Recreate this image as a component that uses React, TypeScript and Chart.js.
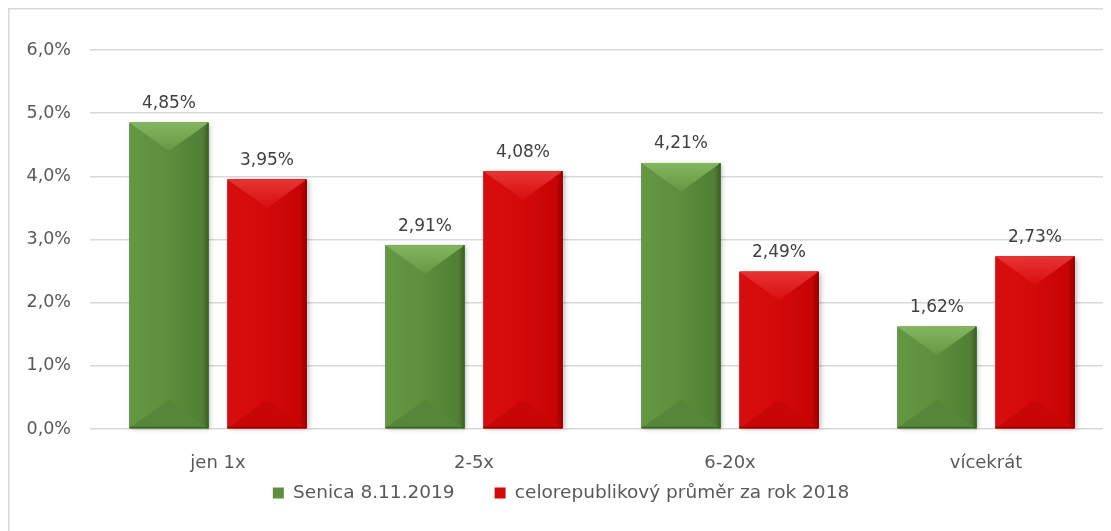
import React, { useEffect, useRef } from "react";
import { Chart, registerables } from "chart.js";

Chart.register(...registerables);

const categories = ["jen 1x", "2-5x", "6-20x", "vícekrát"];
const seriesNames = ["Senica 8.11.2019", "celorepublikový průměr za rok 2018"];
const senicaValues = [4.85, 2.91, 4.21, 1.62];
const republicValues = [3.95, 4.08, 2.49, 2.73];
const yMin = 0;
const yMax = 6;
const yStep = 1;

const FONT = "'DejaVu Sans', sans-serif";

const palettes = [
  { base: "#5c8e3c", light: "#84b660", lightMid: "#659843", dark: "#517f34", edge: "#3c6225", bottom: "#568639" },
  { base: "#d40909", light: "#e83434", lightMid: "#d80e0e", dark: "#c50404", edge: "#980000", bottom: "#c90606" },
];

const fmt = (v: number, d: number) => v.toFixed(d).replace(".", ",") + "%";

const LEGEND_CENTER_Y = 485;

const bevelPlugin = {
  id: "bevel",
  afterDatasetsDraw(chart: any) {
    const ctx = chart.ctx;
    chart.data.datasets.forEach((_ds: any, di: number) => {
      const meta = chart.getDatasetMeta(di);
      const p = palettes[di];
      meta.data.forEach((el: any) => {
        const { x, y, base, width } = el.getProps(["x", "y", "base", "width"], true);
        const x0 = x - width / 2;
        const x1 = x + width / 2;
        const t = y;
        const b = base;
        const h = b - t;
        const d = Math.min(width * 0.36, h / 2);
        ctx.save();
        ctx.shadowColor = "rgba(0,0,0,0.3)";
        ctx.shadowBlur = 5;
        ctx.shadowOffsetX = 2;
        ctx.shadowOffsetY = 1;
        ctx.fillStyle = p.base;
        ctx.fillRect(x0, t, width, h);
        ctx.restore();

        ctx.save();
        const g = ctx.createLinearGradient(x0, 0, x1, 0);
        g.addColorStop(0, p.lightMid);
        g.addColorStop(0.5, p.base);
        g.addColorStop(0.92, p.dark);
        g.addColorStop(1, p.edge);
        ctx.fillStyle = g;
        ctx.fillRect(x0, t, width, h);

        const gt = ctx.createLinearGradient(0, t, 0, t + d);
        gt.addColorStop(0, p.light);
        gt.addColorStop(1, p.lightMid);
        ctx.fillStyle = gt;
        ctx.beginPath();
        ctx.moveTo(x0, t);
        ctx.lineTo(x1, t);
        ctx.lineTo(x, t + d);
        ctx.closePath();
        ctx.fill();

        ctx.fillStyle = p.bottom;
        ctx.beginPath();
        ctx.moveTo(x0, b);
        ctx.lineTo(x1, b);
        ctx.lineTo(x, b - d);
        ctx.closePath();
        ctx.fill();

        ctx.fillStyle = p.edge;
        ctx.fillRect(x1 - 1.5, t, 1.5, h);
        ctx.fillRect(x0, b - 1.5, width, 1.5);
        ctx.restore();
      });
    });
  },
};

const labelsPlugin = {
  id: "valueLabels",
  afterDatasetsDraw(chart: any) {
    const ctx = chart.ctx;
    ctx.save();
    ctx.font = `17px ${FONT}`;
    ctx.fillStyle = "#404040";
    ctx.textAlign = "center";
    ctx.textBaseline = "middle";
    chart.data.datasets.forEach((ds: any, di: number) => {
      const meta = chart.getDatasetMeta(di);
      meta.data.forEach((el: any, i: number) => {
        const { x, y } = el.getProps(["x", "y"], true);
        ctx.fillText(fmt(ds.data[i], 2), x, y - 19);
      });
    });
    ctx.restore();
  },
};

const framePlugin = {
  id: "frame",
  beforeDraw(chart: any) {
    const ctx = chart.ctx;
    ctx.save();
    ctx.fillStyle = "#ffffff";
    ctx.fillRect(0, 0, chart.width, chart.height);
    ctx.strokeStyle = "#d9d9d9";
    ctx.lineWidth = 1.5;
    ctx.beginPath();
    ctx.moveTo(0.75, chart.height);
    ctx.lineTo(0.75, 0.75);
    ctx.lineTo(chart.width, 0.75);
    ctx.stroke();
    ctx.restore();
  },
};

const legendShiftPlugin = {
  id: "legendShift",
  afterLayout(chart: any) {
    const lg = chart.legend;
    if (!lg) return;
    const opts = lg.options.labels;
    const itemH = Math.max(opts.font.size, opts.boxHeight);
    const top = LEGEND_CENTER_Y - opts.padding - itemH / 2;
    const hgt = lg.bottom - lg.top;
    lg.top = top;
    lg.bottom = top + hgt;
  },
};

export default function App() {
  const ref = useRef<HTMLCanvasElement | null>(null);
  useEffect(() => {
    if (!ref.current) return;
    const chart = new Chart(ref.current, {
      type: "bar",
      data: {
        labels: categories,
        datasets: [
          {
            label: seriesNames[0],
            data: senicaValues,
            backgroundColor: palettes[0].base,
            borderColor: palettes[0].edge,
            borderWidth: 0,
          },
          {
            label: seriesNames[1],
            data: republicValues,
            backgroundColor: palettes[1].base,
            borderColor: palettes[1].edge,
            borderWidth: 0,
          },
        ],
      },
      options: {
        responsive: false,
        animation: false,
        devicePixelRatio: 1,
        datasets: { bar: { categoryPercentage: 0.766, barPercentage: 0.806 } },
        layout: { padding: { top: 42, right: 4, bottom: 2.5, left: 0 } },
        scales: {
          x: {
            grid: { display: false, drawTicks: false },
            border: { display: false },
            ticks: { color: "#595959", font: { family: FONT, size: 18 }, padding: 24 },
            afterFit: (s: any) => {
              s.height = 48;
            },
          },
          y: {
            min: yMin,
            max: yMax,
            grid: { color: "#d9d9d9", lineWidth: 1.5, drawTicks: false },
            border: { display: false },
            ticks: {
              stepSize: yStep,
              color: "#595959",
              font: { family: FONT, size: 17.5 },
              padding: 19,
              callback: (v: any) => fmt(Number(v), 1),
            },
            afterFit: (s: any) => {
              s.width = 82;
            },
          },
        },
        plugins: {
          legend: {
            position: "bottom",
            labels: {
              color: "#595959",
              font: { family: FONT, size: 18.5 },
              boxWidth: 11,
              boxHeight: 11,
              padding: 40,
            },
          },
          tooltip: { enabled: false },
        },
      },
      plugins: [framePlugin, bevelPlugin, labelsPlugin, legendShiftPlugin],
    });
    return () => chart.destroy();
  }, []);
  return (
    <div style={{ width: 1103, height: 523, overflow: "hidden", position: "relative" }}>
      <canvas ref={ref} width={1110} height={540} style={{ display: "block" }} />
    </div>
  );
}
